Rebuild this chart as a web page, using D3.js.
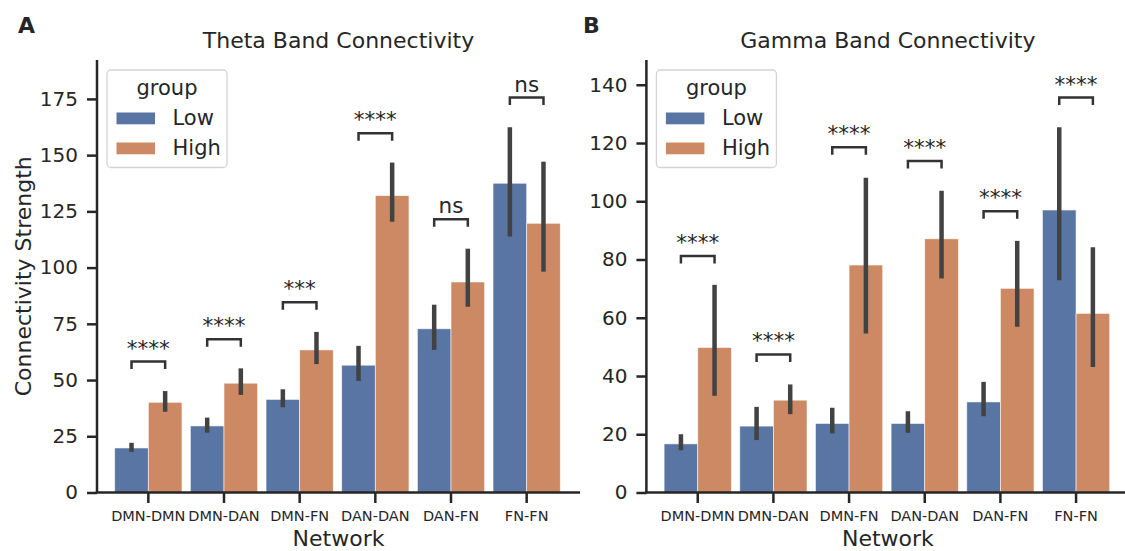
<!DOCTYPE html>
<html lang="en">
  <head>
    <meta charset="utf-8">
    <script src="https://d3js.org/d3.v7.min.js"></script>
    <style>
      body { margin: 0; background: #fff; }
      svg text { font-family: "DejaVu Sans", sans-serif; fill: #262626; }
    </style>
  </head>
  <body>
    <svg width="1125" height="551"></svg>
    <script>
      // categories and group names
      var networks = ["DMN-DMN", "DMN-DAN", "DMN-FN", "DAN-DAN", "DAN-FN", "FN-FN"];
      var groups = ["Low", "High"];

      // theta band: means and confidence intervals
      var thetaLow = [19.8, 29.6, 41.4, 56.6, 72.8, 137.5];
      var thetaHigh = [40.1, 48.6, 63.4, 132.0, 93.6, 119.7];
      var thetaLowCI = [[18.1, 22.1], [26.6, 33.3], [37.9, 45.9], [49.6, 65.2], [63.4, 83.5], [113.8, 162.4]];
      var thetaHighCI = [[35.9, 45.1], [43.4, 55.2], [57.1, 71.4], [120.4, 146.7], [82.6, 108.4], [98.2, 147.1]];
      var thetaBracket = [58.2, 68.1, 84.6, 159.7, 121.5, 175.6];
      var thetaStars = ["****", "****", "***", "****", "ns", "ns"];
      var thetaTicks = [0, 25, 50, 75, 100, 125, 150, 175];

      // gamma band: means and confidence intervals
      var gammaLow = [16.7, 22.8, 23.7, 23.7, 31.1, 97.0];
      var gammaHigh = [49.8, 31.7, 78.1, 87.1, 70.1, 61.5];
      var gammaLowCI = [[14.5, 20.0], [18.0, 29.4], [20.3, 29.1], [20.5, 27.9], [26.2, 38.0], [72.9, 125.4]];
      var gammaHighCI = [[33.2, 71.3], [26.9, 37.1], [54.6, 108.1], [73.5, 103.6], [56.9, 86.4], [43.1, 84.2]];
      var gammaBracket = [81.2, 47.4, 118.5, 113.8, 96.6, 135.6];
      var gammaStars = ["****", "****", "****", "****", "****", "****"];
      var gammaTicks = [0, 20, 40, 60, 80, 100, 120, 140];

      var colors = { Low: "#5975a4", High: "#cc8963" };
      var dark = "#262626";
      var errColor = "#424242";

      var svg = d3.select("svg");

      function drawPanel(opt) {
        var axL = 97, axR = 580, axTop = 60, axBot = 492.5;
        var g = svg.append("g").attr("transform", "translate(" + opt.dx + ",0)");

        var x = d3.scaleBand().domain(networks).range([110.5, 564.5]);
        var xg = d3.scaleBand().domain(groups).range([0, x.bandwidth()]).paddingOuter(0.125);
        var y = d3.scaleLinear().domain([0, opt.ymax]).range([axBot, axTop]);

        // panel letter and title
        g.append("text").attr("x", opt.letterX).attr("y", 32.5)
          .style("font-size", "22px").style("font-weight", "bold").text(opt.letter);
        g.append("text").attr("x", (axL + axR) / 2).attr("y", 48)
          .attr("text-anchor", "middle").style("font-size", "22px").text(opt.title);

        // bars
        var rows = [];
        networks.forEach(function (n, i) {
          rows.push({ net: n, grp: "Low", v: opt.low[i], ci: opt.lowCI[i] });
          rows.push({ net: n, grp: "High", v: opt.high[i], ci: opt.highCI[i] });
        });
        g.append("g").selectAll("rect").data(rows).enter().append("rect")
          .attr("x", function (d) { return x(d.net) + xg(d.grp); })
          .attr("y", function (d) { return y(d.v); })
          .attr("width", xg.bandwidth())
          .attr("height", function (d) { return axBot - y(d.v); })
          .attr("fill", function (d) { return colors[d.grp]; })
          .attr("stroke", "#fff").attr("stroke-width", 0.8).attr("stroke-opacity", 0.7);

        // error bars
        g.append("g").selectAll("line").data(rows).enter().append("line")
          .attr("x1", function (d) { return x(d.net) + xg(d.grp) + xg.bandwidth() / 2; })
          .attr("x2", function (d) { return x(d.net) + xg(d.grp) + xg.bandwidth() / 2; })
          .attr("y1", function (d) { return y(d.ci[0]); })
          .attr("y2", function (d) { return y(d.ci[1]); })
          .attr("stroke", errColor).attr("stroke-width", 4.5).attr("stroke-linecap", "butt");

        // significance brackets
        networks.forEach(function (n, i) {
          var x1 = x(n) + xg("Low") + xg.bandwidth() / 2;
          var x2 = x(n) + xg("High") + xg.bandwidth() / 2;
          var by = y(opt.bracket[i]);
          g.append("path")
            .attr("d", "M" + x1 + "," + (by + 7.5) + "V" + by + "H" + x2 + "V" + (by + 7.5))
            .attr("fill", "none").attr("stroke", "#333").attr("stroke-width", 2.5);
          g.append("text").attr("x", (x1 + x2) / 2).attr("y", by - 6)
            .attr("text-anchor", "middle").style("font-size", "21.5px").text(opt.stars[i]);
        });

        // y axis
        var ya = g.append("g").attr("transform", "translate(" + axL + ",0)")
          .call(d3.axisLeft(y).tickValues(opt.ticks).tickSize(10).tickPadding(9));
        ya.select(".domain").remove();
        ya.selectAll("line").attr("stroke", dark).attr("stroke-width", 2.5);
        ya.selectAll("text").style("font-size", "20px").attr("fill", dark);
        g.append("line").attr("x1", axL).attr("x2", axL).attr("y1", axTop).attr("y2", axBot)
          .attr("stroke", dark).attr("stroke-width", 2.5);

        // x axis
        var xa = g.append("g").attr("transform", "translate(0," + axBot + ")")
          .call(d3.axisBottom(x).tickSize(10.5).tickPadding(8));
        xa.select(".domain").remove();
        xa.selectAll("line").attr("stroke", dark).attr("stroke-width", 2.5);
        xa.selectAll("text").style("font-size", "14.5px").attr("fill", dark);
        g.append("line").attr("x1", axL - 1.25).attr("x2", axR).attr("y1", axBot).attr("y2", axBot)
          .attr("stroke", dark).attr("stroke-width", 2.5);

        // axis labels
        g.append("text").attr("x", (axL + axR) / 2).attr("y", 546)
          .attr("text-anchor", "middle").style("font-size", "22px").text("Network");
        if (opt.ylabel) {
          g.append("text").attr("transform", "translate(31," + (axTop + axBot) / 2 + ")rotate(-90)")
            .attr("text-anchor", "middle").style("font-size", "22px").text(opt.ylabel);
        }

        // legend
        var lg = g.append("g").attr("transform", "translate(107,70)");
        lg.append("rect").attr("width", 120).attr("height", 97.5).attr("rx", 4)
          .attr("fill", "#fff").attr("fill-opacity", 0.8)
          .attr("stroke", "#d4d4d4").attr("stroke-width", 1.3);
        lg.append("text").attr("x", 60).attr("y", 25).attr("text-anchor", "middle")
          .style("font-size", "21px").text("group");
        groups.forEach(function (gr, i) {
          lg.append("rect").attr("x", 9.5).attr("y", 42.5 + i * 30).attr("width", 38.5).attr("height", 11.8)
            .attr("fill", colors[gr]);
          lg.append("text").attr("x", 65.5).attr("y", 55 + i * 29.5)
            .style("font-size", "21px").text(gr);
        });
      }

      drawPanel({ dx: 0, letter: "A", letterX: 18, title: "Theta Band Connectivity",
        low: thetaLow, high: thetaHigh, lowCI: thetaLowCI, highCI: thetaHighCI,
        bracket: thetaBracket, stars: thetaStars, ticks: thetaTicks, ymax: 192.3,
        ylabel: "Connectivity Strength" });

      drawPanel({ dx: 549.4, letter: "B", letterX: 33.6, title: "Gamma Band Connectivity",
        low: gammaLow, high: gammaHigh, lowCI: gammaLowCI, highCI: gammaHighCI,
        bracket: gammaBracket, stars: gammaStars, ticks: gammaTicks, ymax: 148.5,
        ylabel: null });
    </script>
  </body>
</html>
